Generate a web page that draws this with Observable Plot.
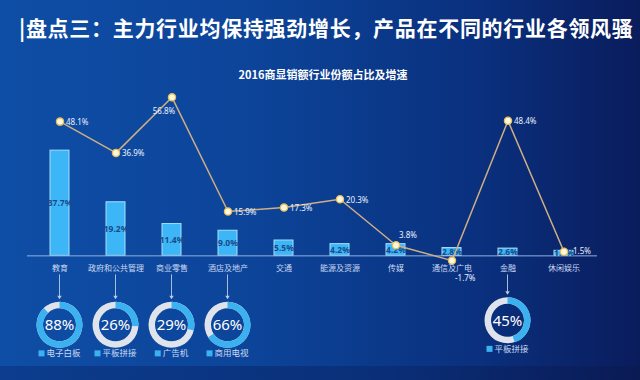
<!DOCTYPE html>
<html><head><meta charset="utf-8">
<script src="https://cdn.jsdelivr.net/npm/d3@7"></script>
<script src="https://cdn.jsdelivr.net/npm/@observablehq/plot@0.6"></script>
<style>
html,body{margin:0;padding:0;width:640px;height:380px;overflow:hidden;}
body{background:linear-gradient(90deg,#0f4ea6 0%,#0c4499 40%,#0a307e 75%,#0a1c5c 100%);font-family:"Noto Sans CJK SC",sans-serif;position:relative;}
#band{position:absolute;left:0;top:366px;width:640px;height:14px;background:linear-gradient(90deg,#0c3d8e 0%,#0a2f78 60%,#0a1a55 100%);}
#title{position:absolute;left:19px;top:12px;color:#fff;font-size:21px;letter-spacing:0.7px;font-weight:700;white-space:nowrap;line-height:30px;}
#sub{position:absolute;left:0;width:646px;top:66px;text-align:center;color:#fff;font-size:11px;font-weight:700;line-height:16px;}
#chart{position:absolute;left:0;top:0;}
</style></head>
<body>
<div id="band"></div>
<div id="title">|盘点三：主力行业均保持强劲增长，产品在不同的行业各领风骚</div>
<div id="sub">2016商显销额行业份额占比及增速</div>
<div id="chart"></div>
<script>
const categories = ["教育","政府和公共管理","商业零售","酒店及地产","交通","能源及资源","传媒","通信及广电","金融","休闲娱乐"];
const shares = [37.7,19.2,11.4,9.0,5.5,4.2,4.2,2.8,2.6,1.8];
const growth = [48.1,36.9,56.8,15.9,17.3,20.3,3.8,-1.7,48.4,1.5];
const donutCategories = ["教育","政府和公共管理","商业零售","酒店及地产","金融"];
const donutValues = [88,26,29,66,45];
const donutProducts = ["电子白板","平板拼接","广告机","商用电视","平板拼接"];

const rows = categories.map((c,i)=>({cat:c, share:shares[i], growth:growth[i]}));
const donuts = donutCategories.map((c,i)=>({cat:c, value:donutValues[i], product:donutProducts[i]}));
const pct = v => `${v.toFixed(1)}%`;

function donutMark(data){
  return (index, scales) => {
    const x = scales.x, y = scales.y;
    const bw = x.bandwidth ? x.bandwidth() : 0;
    const y0 = y(0);
    const g = d3.create("svg:g");
    const arc = d3.arc().innerRadius(16.5).outerRadius(23);
    for (const d of data){
      const cx = x(d.cat) + bw/2;
      const cy = y0 + (d.cat === "金融" ? 65 : 69.5);
      g.append("line").attr("x1",cx).attr("x2",cx).attr("y1",y0+19).attr("y2",cy-27)
        .attr("stroke","#b8cbe8").attr("stroke-width",0.9);
      g.append("path").attr("d",`M${cx-2.2},${cy-29}L${cx+2.2},${cy-29}L${cx},${cy-25.5}Z`).attr("fill","#b8cbe8");
      const dg = g.append("g").attr("transform",`translate(${cx},${cy})`);
      dg.append("path").attr("d",arc({startAngle:0,endAngle:2*Math.PI})).attr("fill","#dfe4ec");
      dg.append("path").attr("d",arc({startAngle:0,endAngle:2*Math.PI*d.value/100})).attr("fill","#3bb2ef");
      dg.append("text").attr("text-anchor","middle").attr("dy","0.36em")
        .attr("fill","#fff").attr("font-size",15).attr("font-family","'Noto Sans',sans-serif")
        .text(`${d.value}%`);
      const tw = d.product.length*8.5;
      const lx = cx - (tw+8)/2;
      const ly = cy + 28.5;
      g.append("rect").attr("x",lx).attr("y",ly-3).attr("width",6).attr("height",6).attr("fill","#3bb2ef");
      g.append("text").attr("x",lx+8).attr("y",ly).attr("dy","0.35em").attr("font-size",8.5)
        .attr("text-anchor","start")
        .attr("fill","#c9dbf3").attr("font-family","'Noto Sans CJK SC',sans-serif").text(d.product);
    }
    return g.node();
  };
}

const rightLabels = rows.filter(d=>!["商业零售","传媒","通信及广电","休闲娱乐"].includes(d.cat));
const textStyle = {fill:"#eaf1ff", fontSize:8, fontFamily:"'Noto Sans',sans-serif"};

const plot = Plot.plot({
  width:640, height:380,
  marginTop:60, marginBottom:13, marginLeft:8, marginRight:25,
  x:{domain:categories, padding:0.66, axis:null},
  y:{domain:[-40,70], axis:null},
  style:{background:"transparent", overflow:"visible", fontFamily:"'Noto Sans CJK SC',sans-serif"},
  marks:[
    Plot.barY(rows,{x:"cat", y:"share", fill:"#3cb6f6", stroke:"#a6defc", strokeWidth:1}),
    Plot.ruleY([0],{stroke:"#8fb2e2", strokeWidth:1, insetLeft:19, insetRight:18}),
    Plot.text(rows,{x:"cat", y:d=>d.share/2, text:d=>pct(d.share), fill:"#184a8c", fontSize:8.5, fontWeight:"bold", fontFamily:"'Noto Sans',sans-serif"}),
    Plot.line(rows,{x:"cat", y:"growth", stroke:"#cfae84", strokeWidth:1.5}),
    Plot.dot(rows,{x:"cat", y:"growth", r:3.6, fill:"#fff7dc", stroke:"#e6bf5c", strokeWidth:1.3}),
    Plot.text(rightLabels,{x:"cat", y:"growth", text:d=>pct(d.growth), textAnchor:"start", dx:6, dy:1, ...textStyle}),
    Plot.text(rows.filter(d=>d.cat==="商业零售"),{x:"cat", y:"growth", text:d=>pct(d.growth), textAnchor:"middle", dx:-8, dy:14, ...textStyle}),
    Plot.text(rows.filter(d=>d.cat==="传媒"),{x:"cat", y:"growth", text:d=>pct(d.growth), textAnchor:"start", dx:3, dy:-10, ...textStyle}),
    Plot.text(rows.filter(d=>d.cat==="通信及广电"),{x:"cat", y:"growth", text:d=>pct(d.growth), textAnchor:"start", dx:3, dy:18, ...textStyle}),
    Plot.text(rows.filter(d=>d.cat==="休闲娱乐"),{x:"cat", y:"growth", text:d=>pct(d.growth), textAnchor:"start", dx:9, dy:0, ...textStyle}),
    Plot.text(rows,{x:"cat", y:0, text:"cat", dy:12.5, fill:"#c9d9f2", fontSize:8}),
    donutMark(donuts)
  ]
});
document.getElementById("chart").appendChild(plot);
</script>
</body></html>
